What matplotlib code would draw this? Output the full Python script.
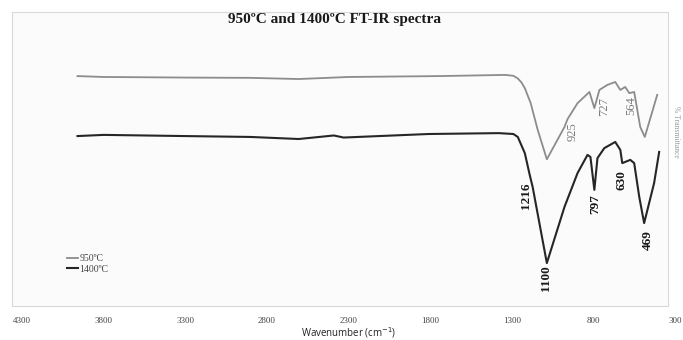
import matplotlib.pyplot as plt
from matplotlib.patches import Rectangle

# wavenumber (cm-1) and transmittance (%)
wn_950 = [3960, 3800, 3300, 2900, 2605, 2300, 1750, 1340, 1290, 1263, 1240, 1220,
          1184, 1141, 1085, 977, 958, 897, 824, 794, 763, 714, 666, 635, 605, 580,
          550, 513, 485, 409]
t_950 = [78.2, 77.9, 77.7, 77.6, 77.2, 77.9, 78.2, 78.6, 78.3, 77.4, 76.0, 74.1,
         69.0, 59.9, 49.9, 60.9, 63.6, 69.0, 72.8, 67.3, 73.5, 75.2, 76.2, 73.5,
         74.5, 72.4, 72.8, 60.9, 57.5, 71.8]

wn_1400 = [3960, 3800, 3300, 2900, 2605, 2390, 2330, 1810, 1380, 1290, 1263, 1220,
           1190, 1172, 1085, 977, 897, 836, 818, 794, 775, 733, 666, 635, 623, 574,
           550, 519, 489, 428, 397]
t_1400 = [57.8, 58.2, 57.8, 57.5, 56.8, 58.0, 57.3, 58.5, 58.8, 58.5, 57.5, 52.0,
          44.6, 40.5, 14.6, 33.7, 45.2, 51.4, 50.7, 39.5, 50.3, 53.7, 55.8, 53.1,
          48.6, 49.7, 48.6, 37.1, 28.2, 41.8, 52.4]

# peak labels: text, wavenumber position, transmittance position
peaks_950 = ["925", "727", "564"]
peaks_950_x = [925, 735, 565]
peaks_950_y = [59.2, 67.7, 68.0]
peaks_1400 = ["1216", "1100", "797", "630", "469"]
peaks_1400_x = [1210, 1090, 790, 625, 465]
peaks_1400_y = [37.4, 9.5, 34.7, 42.9, 22.4]

xticks = [4300, 3800, 3300, 2800, 2300, 1800, 1300, 800, 300]

fig = plt.figure(figsize=(6.83, 3.40), dpi=100)
W, H = 683, 340

# light chart area behind the plot
fig.patches.append(Rectangle((12 / W, 1 - 306 / H), (668 - 12) / W, (306 - 12) / H,
                             transform=fig.transFigure, facecolor="#fbfbfb",
                             edgecolor="#d9d9d9", linewidth=0.8, zorder=-1))

ax = fig.add_axes([22 / W, 1 - 306 / H, (675 - 22) / W, (306 - 12) / H])
ax.patch.set_alpha(0)
ax.plot(wn_950, t_950, color="#8c8c8c", linewidth=1.3, label="950ºC")
ax.plot(wn_1400, t_1400, color="#262626", linewidth=1.5, label="1400ºC")

for s, x, y in zip(peaks_950, peaks_950_x, peaks_950_y):
    ax.text(x, y, s, rotation=90, ha="center", va="center", color="#7a7a7a",
            fontsize=9, family="Liberation Serif")
for s, x, y in zip(peaks_1400, peaks_1400_x, peaks_1400_y):
    ax.text(x, y, s, rotation=90, ha="center", va="center", color="#1a1a1a",
            fontsize=9.5, fontweight="bold", family="Liberation Serif")

ax.set_xlim(4300, 300)
ax.set_ylim(0, 100)
ax.set_xticks(xticks)
ax.set_xticklabels([str(t) for t in xticks], family="Liberation Serif",
                   fontsize=6.5, color="#444444")
ax.tick_params(axis="x", length=0, pad=8)
ax.set_yticks([])
for sp in ax.spines.values():
    sp.set_visible(False)

ax.set_xlabel("Wavenumber (cm$^{-1}$)", family="Open Sans", fontsize=7,
              color="#222222", labelpad=0)

leg = ax.legend(loc="lower left", bbox_to_anchor=(0.055, 0.08), frameon=False,
                handlelength=1.2, handletextpad=0.1, labelspacing=0.15,
                prop={"family": "Liberation Serif", "size": 7})
for t in leg.get_texts():
    t.set_color("#444444")

fig.text(335 / W, 1 - 20 / H, "950ºC and 1400ºC FT-IR spectra", ha="center",
         va="center", fontsize=11, fontweight="bold", family="Liberation Serif",
         color="#1a1a1a")
fig.text(676 / W, 1 - 132 / H, "% Transmittance", rotation=270, ha="center",
         va="center", fontsize=5.5, color="#999999", family="Liberation Serif")

fig.savefig("out.png", dpi=100)
